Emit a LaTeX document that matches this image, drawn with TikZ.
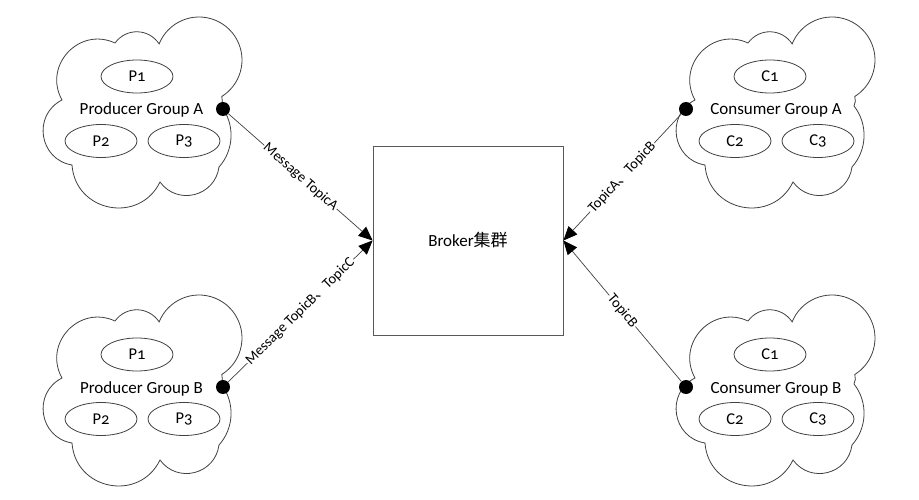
\documentclass[tikz,border=0pt]{standalone}
\usepackage{fontspec}
\setmainfont{Carlito}[Numbers=OldStyle]
\newfontfamily\cjk{Noto Sans CJK SC}
\usetikzlibrary{arrows.meta,shapes.geometric}
\begin{document}
\begin{tikzpicture}[x=1pt,y=-1pt,
  ln/.style={draw=black!75, line width=0.8pt},
  member/.style={ellipse, draw=black!75, line width=0.8pt, minimum width=72pt, minimum height=33pt, inner sep=0pt, font=\fontsize{16.5}{18}\selectfont},
  grouplbl/.style={anchor=base, font=\fontsize{17}{19}\selectfont, inner sep=0pt},
  dotn/.style={circle, fill=black, inner sep=0pt, minimum size=14pt},
  conn/.style={draw=black!75, line width=0.7pt, -{Triangle[length=14pt,width=12pt,black]}},
  elabel/.style={sloped, fill=white, inner sep=1pt, font=\fontsize{14.5}{16}\selectfont},
  cloudpic/.pic={
    \draw[ln] (62,100) to[bend left=72, looseness=1.3] (115,43)
      to[bend left=55, looseness=1.1] (159.13,43.89)
      arc[start angle=-158, end angle=58, radius=43]
      to[bend left=20] (221,106)
      to[bend left=40, looseness=0.96] (219,167)
      to[bend left=68, looseness=1.25] (160,182)
      to[bend left=75, looseness=1.35] (72,165)
      to[bend left=72, looseness=1.3] (62,100) -- cycle;
  }]
\useasboundingbox (0,0) rectangle (919,500);

% clouds
\pic at (0,0) {cloudpic};
\pic at (633,0) {cloudpic};
\pic at (0,278) {cloudpic};
\pic at (633,278) {cloudpic};

% producer group A
\node[member] (pa1) at (137,76.5) {P1};
\node[member] (pa2) at (101,141) {P2};
\node[member] (pa3) at (184,141) {P3};
\node[grouplbl] (pal) at (141.5,115) {Producer Group A};

% producer group B
\node[member] (pb1) at (137,354.5) {P1};
\node[member] (pb2) at (101,419) {P2};
\node[member] (pb3) at (184,419) {P3};
\node[grouplbl] (pbl) at (141.5,393) {Producer Group B};

% consumer group A
\node[member] (ca1) at (770,76.5) {C1};
\node[member] (ca2) at (735,141) {C2};
\node[member] (ca3) at (818,141) {C3};
\node[grouplbl] (cal) at (776,115) {Consumer Group A};

% consumer group B
\node[member] (cb1) at (770,354.5) {C1};
\node[member] (cb2) at (735,419) {C2};
\node[member] (cb3) at (818,419) {C3};
\node[grouplbl] (cbl) at (776,393) {Consumer Group B};

% broker
\node[draw=black!65, line width=0.8pt, minimum width=190pt, minimum height=189pt,
      font=\fontsize{17}{19}\selectfont] (broker) at (468,240.5) {Broker{\cjk 集群}};

% dots
\node[dotn] (pa) at (223,109) {};
\node[dotn] (pb) at (223,387) {};
\node[dotn] (ca) at (686,109) {};
\node[dotn] (cb) at (686,387) {};

% connectors
\draw[conn] (pa) -- node[elabel] {Message TopicA} (broker.west);
\draw[conn] (pb) -- node[elabel] {Message TopicB{\cjk 、}TopicC} (broker.west);
\draw[conn] (ca) -- node[elabel] {TopicA{\cjk 、}TopicB} (broker.east);
\draw[conn] (cb) -- node[elabel] {TopicB} (broker.east);
\end{tikzpicture}
\end{document}
